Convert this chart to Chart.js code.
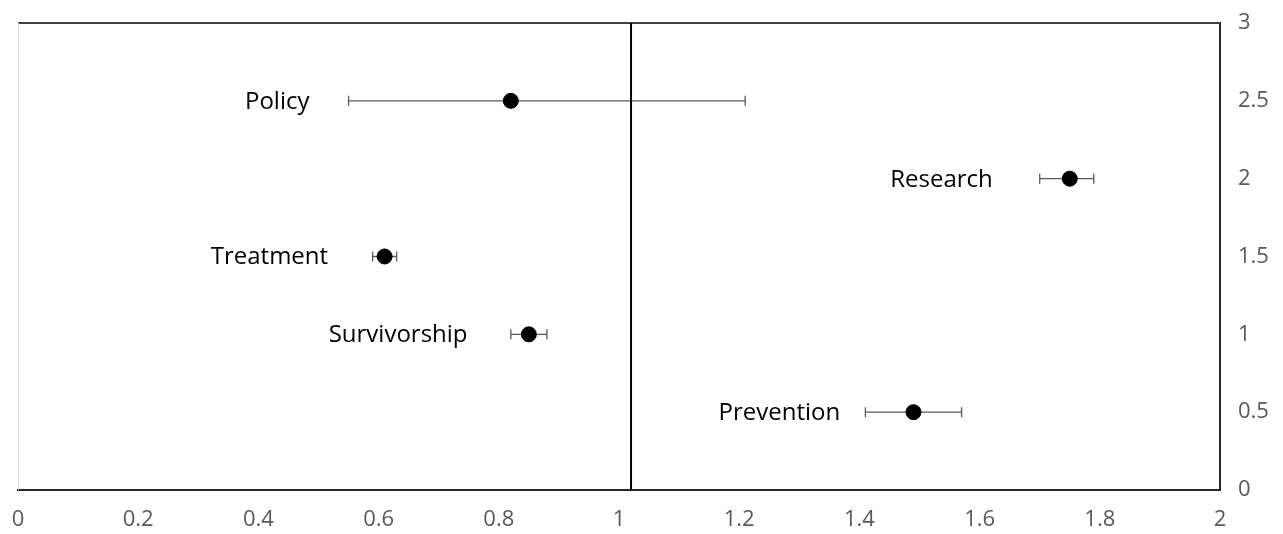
<!DOCTYPE html>
<html>
<head>
<meta charset="utf-8">
<script src="https://cdn.jsdelivr.net/npm/chart.js@4/dist/chart.umd.min.js"></script>
<style>
  html, body { margin: 0; padding: 0; background: #fff; overflow: hidden; }
  #wrap { width: 1283px; height: 534px; }
  canvas { display: block; }
</style>
</head>
<body>
<div id="wrap"><canvas id="grafica" width="1283" height="534"></canvas></div>
<script>
// data
var labels   = ["Policy", "Research", "Treatment", "Survivorship", "Prevention"];
var xValues  = [0.82, 1.75, 0.61, 0.85, 1.49];
var yValues  = [2.5, 2.0, 1.5, 1.0, 0.5];
var lowValues  = [0.55, 1.70, 0.59, 0.82, 1.41];
var highValues = [1.21, 1.79, 0.63, 0.88, 1.57];
// where each text label ends (x units)
var labelEnd = [0.485, 1.622, 0.516, 0.748, 1.368];
var refX = [1.02, 1.02];
var refY = [0, 3];

var points = xValues.map(function(x, i){ return {x: x, y: yValues[i]}; });
var refLine = refX.map(function(x, i){ return {x: x, y: refY[i]}; });

function fmt(v){ return String(Math.round(v * 10) / 10); }

// error bars + text labels + frame
var extras = {
    id: "extras",
    beforeDatasetsDraw: function(chart){
        var ctx = chart.ctx;
        var xs = chart.scales.x, ys = chart.scales.y;
        var a = chart.chartArea;
        ctx.save();
        // frame: top and left
        ctx.strokeStyle = "#404040";
        ctx.lineWidth = 2;
        ctx.beginPath();
        ctx.moveTo(a.left, a.top);
        ctx.lineTo(a.right, a.top);
        ctx.stroke();
        ctx.strokeStyle = "#d9d9d9";
        ctx.lineWidth = 1;
        ctx.beginPath();
        ctx.moveTo(a.left + 0.5, a.top);
        ctx.lineTo(a.left + 0.5, a.bottom);
        ctx.stroke();
        // error bars
        ctx.strokeStyle = "#595959";
        ctx.lineWidth = 1.3;
        for (var i = 0; i < xValues.length; i++) {
            var y = ys.getPixelForValue(yValues[i]);
            var x1 = xs.getPixelForValue(lowValues[i]);
            var x2 = xs.getPixelForValue(highValues[i]);
            ctx.beginPath();
            ctx.moveTo(x1, y); ctx.lineTo(x2, y);
            ctx.moveTo(x1, y - 5); ctx.lineTo(x1, y + 5);
            ctx.moveTo(x2, y - 5); ctx.lineTo(x2, y + 5);
            ctx.stroke();
        }
        // labels
        ctx.fillStyle = "#000";
        ctx.font = "24px 'Open Sans'";
        ctx.textAlign = "right";
        ctx.textBaseline = "middle";
        for (var j = 0; j < labels.length; j++) {
            ctx.fillText(labels[j], xs.getPixelForValue(labelEnd[j]), ys.getPixelForValue(yValues[j]) + 1);
        }
        ctx.restore();
    }
};

var ctx = document.getElementById("grafica").getContext("2d");
var chart = new Chart(ctx, {
    type: "scatter",
    data: {
        datasets: [
            {
                label: "ref",
                data: refLine,
                showLine: true,
                borderColor: "#000",
                borderWidth: 2,
                pointRadius: 0
            },
            {
                label: "points",
                data: points,
                backgroundColor: "#000",
                borderColor: "#000",
                pointRadius: 7.5,
                pointHoverRadius: 7.5
            }
        ]
    },
    options: {
        animation: false,
        responsive: false,
        maintainAspectRatio: false,
        layout: { padding: { left: 18, right: 0, top: 23, bottom: 4 } },
        plugins: {
            legend: { display: false },
            tooltip: { enabled: false }
        },
        scales: {
            x: {
                type: "linear",
                position: "bottom",
                min: 0,
                max: 2,
                grid: { display: false, drawTicks: false },
                border: { display: true, color: "#262626", width: 2 },
                ticks: {
                    stepSize: 0.2,
                    padding: 17,
                    color: "#595959",
                    font: { family: "Open Sans", size: 22 },
                    maxRotation: 0,
                    callback: fmt
                },
                afterFit: function(scale){
                    scale.paddingLeft = 0;
                    scale.paddingRight = 0;
                    scale.height = 40;
                }
            },
            y: {
                type: "linear",
                position: "right",
                min: 0,
                max: 3,
                grid: { display: false, drawTicks: false },
                border: { display: true, color: "#262626", width: 2 },
                ticks: {
                    stepSize: 0.5,
                    padding: 18,
                    color: "#595959",
                    font: { family: "Open Sans", size: 22 },
                    callback: fmt
                },
                afterFit: function(scale){
                    scale.paddingTop = 0;
                    scale.paddingBottom = 0;
                    scale.width = 63;
                }
            }
        }
    },
    plugins: [extras]
});
</script>
</body>
</html>
